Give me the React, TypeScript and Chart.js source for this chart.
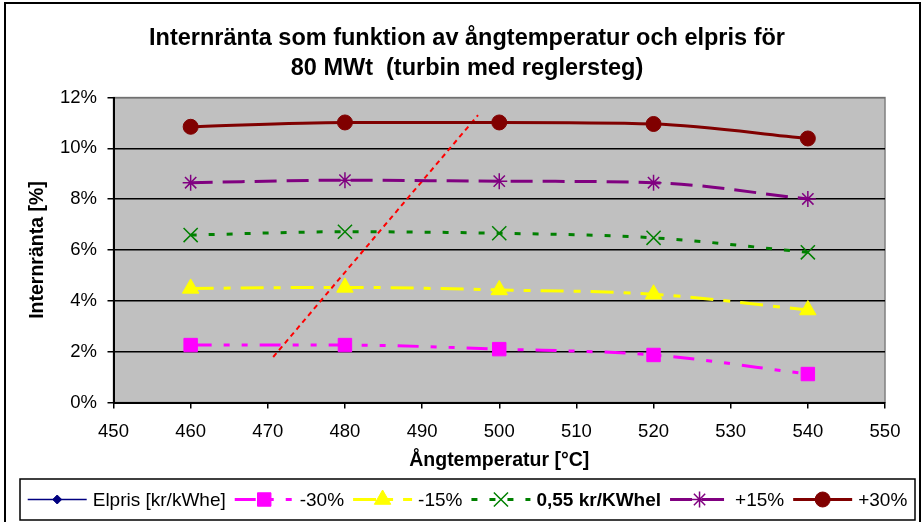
import React, { useEffect, useRef } from 'react';
import { Chart, registerables } from 'chart.js';
import { drawPoint } from 'chart.js/helpers';

Chart.register(...registerables);

const FONT = "'Liberation Sans', Arial, sans-serif";

// Steam temperature [°C] at which each case was calculated
const temperatures = [460, 480, 500, 520, 540];

// Internal rate of return [%] per electricity price case
const minus30 = [2.26, 2.26, 2.1, 1.87, 1.12];
const minus15 = [4.49, 4.53, 4.43, 4.26, 3.64];
const base055 = [6.59, 6.72, 6.66, 6.48, 5.91];
const plus15 = [8.65, 8.75, 8.71, 8.65, 8.01];
const plus30 = [10.85, 11.02, 11.02, 10.96, 10.39];

// Red guide line crossing the curves
const guideX = [470.7, 497.25];
const guideY = [1.79, 11.31];

const titleLines = [
  'Internränta som funktion av ångtemperatur och elpris för',
  '80 MWt  (turbin med reglersteg)',
];
const xTitle = 'Ångtemperatur [°C]';
const yTitle = 'Internränta [%]';
const xRange = [450, 550, 10];
const yRange = [0, 12, 2];

const toPoints = (xs: number[], ys: number[]) => xs.map((x, i) => ({ x, y: ys[i] }));

const series = (
  label: string,
  values: number[],
  color: string,
  dash: number[],
  pointStyle: string,
  radius: number,
  extra: Record<string, unknown> = {}
) => ({
  label,
  data: toPoints(temperatures, values),
  borderColor: color,
  backgroundColor: color,
  borderWidth: 3,
  borderDash: dash,
  pointStyle,
  pointRadius: radius,
  pointBackgroundColor: color,
  pointBorderColor: color,
  pointBorderWidth: 1,
  cubicInterpolationMode: 'monotone',
  yAxisID: 'y',
  ...extra,
});

// Chart frame, white page and grey plot area
const backdrop = {
  id: 'backdrop',
  beforeDraw(chart: any) {
    const { ctx, chartArea: a, width, height } = chart;
    ctx.save();
    ctx.fillStyle = '#ffffff';
    ctx.fillRect(0, 0, width, height);
    ctx.strokeStyle = '#000';
    ctx.lineWidth = 2;
    ctx.strokeRect(5, 3, width - 8, height + 20);
    ctx.fillStyle = '#c0c0c0';
    ctx.fillRect(a.left, a.top, a.right - a.left, a.bottom - a.top);
    ctx.strokeStyle = '#808080';
    ctx.lineWidth = 1.5;
    ctx.strokeRect(a.left, a.top, a.right - a.left, a.bottom - a.top);
    ctx.restore();
  },
};

// Boxed legend with line sample and marker for each series
const boxLegend = {
  id: 'boxLegend',
  afterDraw(chart: any) {
    const { ctx } = chart;
    const box = { left: 20, top: 479, right: 915, bottom: 520 };
    ctx.save();
    ctx.fillStyle = '#fff';
    ctx.fillRect(box.left, box.top, box.right - box.left, box.bottom - box.top);
    ctx.strokeStyle = '#000';
    ctx.lineWidth = 1.5;
    ctx.strokeRect(box.left, box.top, box.right - box.left, box.bottom - box.top);

    const items = chart.data.datasets.filter((d: any) => d.label);
    const lineLen = 59;
    const gapText = 6;
    const gapItem = 9;
    const fontOf = (d: any) => `${d.legendBold ? 'bold ' : ''}19px ${FONT}`;
    const widths = items.map((d: any) => {
      ctx.font = fontOf(d);
      return ctx.measureText(d.label).width;
    });
    const total =
      items.length * (lineLen + gapText) +
      (items.length - 1) * gapItem +
      widths.reduce((s: number, w: number) => s + w, 0);
    let x = (box.left + box.right) / 2 - total / 2;
    const y = (box.top + box.bottom) / 2;
    items.forEach((d: any, i: number) => {
      ctx.save();
      ctx.strokeStyle = d.borderColor;
      ctx.lineWidth = d.borderWidth;
      ctx.setLineDash(d.borderDash || []);
      ctx.beginPath();
      ctx.moveTo(x, y);
      ctx.lineTo(x + lineLen, y);
      ctx.stroke();
      ctx.setLineDash([]);
      ctx.fillStyle = d.pointBackgroundColor;
      ctx.strokeStyle = d.pointBorderColor;
      ctx.lineWidth = d.pointBorderWidth;
      drawPoint(
        ctx,
        { pointStyle: d.pointStyle, radius: d.pointRadius, rotation: 0, borderWidth: d.pointBorderWidth },
        x + lineLen / 2,
        y
      );
      ctx.restore();
      x += lineLen + gapText;
      ctx.font = fontOf(d);
      ctx.fillStyle = '#000';
      ctx.textAlign = 'left';
      ctx.textBaseline = 'middle';
      ctx.fillText(d.label, x, y + 1);
      x += widths[i] + gapItem;
    });
    ctx.restore();
  },
};

export default function App() {
  const canvasRef = useRef<HTMLCanvasElement | null>(null);

  useEffect(() => {
    if (!canvasRef.current) return;
    const chart = new Chart(canvasRef.current, {
      type: 'line',
      data: {
        datasets: [
          {
            label: 'Elpris [kr/kWhe]',
            data: [],
            borderColor: '#000080',
            backgroundColor: '#000080',
            borderWidth: 1.5,
            borderDash: [],
            pointStyle: 'rectRot',
            pointRadius: 4.5,
            pointBackgroundColor: '#000080',
            pointBorderColor: '#000080',
            pointBorderWidth: 1,
            yAxisID: 'y',
          },
          series('-30%', minus30, '#ff00ff', [21, 12, 6, 12, 6, 12], 'rect', 9.5),
          series('-15%', minus15, '#ffff00', [23, 10, 7, 10], 'triangle', 9.5),
          series('0,55 kr/KWhel', base055, '#008000', [6, 12], 'crossRot', 10, {
            pointBorderWidth: 1.5,
            legendBold: true,
          }),
          series('+15%', plus15, '#800080', [22, 10], 'star', 8, { pointBorderWidth: 1.5 }),
          series('+30%', plus30, '#800000', [], 'circle', 7.5),
          {
            label: '',
            data: toPoints(guideX, guideY),
            borderColor: '#ff0000',
            borderWidth: 2,
            borderDash: [5, 4],
            pointRadius: 0,
            yAxisID: 'y',
          },
        ],
      } as any,
      options: {
        animation: false,
        responsive: false,
        devicePixelRatio: 1,
        layout: { padding: { left: 11, right: 0, top: 0, bottom: 47 } },
        plugins: {
          legend: { display: false },
          tooltip: { enabled: false },
          title: {
            display: true,
            text: titleLines,
            color: '#000',
            font: { family: FONT, size: 23.5, weight: 'bold', lineHeight: 1.28 },
            padding: { top: 23, bottom: 14.4 },
          },
        },
        scales: {
          x: {
            type: 'linear',
            min: xRange[0],
            max: xRange[1],
            ticks: {
              stepSize: xRange[2],
              color: '#000',
              font: { family: FONT, size: 18.5 },
              padding: 12,
              maxRotation: 0,
              autoSkip: false,
            },
            grid: { drawOnChartArea: false, tickLength: 6, color: '#000', tickColor: '#000', lineWidth: 1.5 },
            border: { color: '#000', width: 2 },
            title: {
              display: true,
              text: xTitle,
              color: '#000',
              font: { family: FONT, size: 19.5, weight: 'bold' },
              padding: { top: 0, bottom: 2.3 },
            },
            afterFit: (s: any) => {
              s.height = 72.5;
            },
          },
          y: {
            type: 'linear',
            min: yRange[0],
            max: yRange[1],
            ticks: {
              stepSize: yRange[2],
              color: '#000',
              font: { family: FONT, size: 18.5 },
              padding: 10.5,
              callback: (v: any) => `${v}%`,
            },
            grid: {
              color: (c: any) => (c.tick && c.tick.value === yRange[1] ? '#707070' : '#000'),
              tickColor: '#000',
              lineWidth: 1.5,
              tickLength: 6,
            },
            border: { color: '#000', width: 2 },
            title: {
              display: true,
              text: yTitle,
              color: '#000',
              font: { family: FONT, size: 19.5, weight: 'bold' },
              padding: { top: 15.3, bottom: 0 },
            },
            afterFit: (s: any) => {
              s.width = 102.5;
            },
          },
          pad: {
            type: 'linear',
            position: 'right',
            display: true,
            grid: { display: false },
            ticks: { display: false },
            border: { display: false },
            afterFit: (s: any) => {
              s.width = 38;
            },
          },
        },
      } as any,
      plugins: [backdrop, boxLegend],
    });
    return () => chart.destroy();
  }, []);

  return (
    <div style={{ position: 'absolute', left: 0, top: 0, width: 923, height: 522 }}>
      <canvas ref={canvasRef} width={923} height={522} style={{ display: 'block' }} />
    </div>
  );
}
